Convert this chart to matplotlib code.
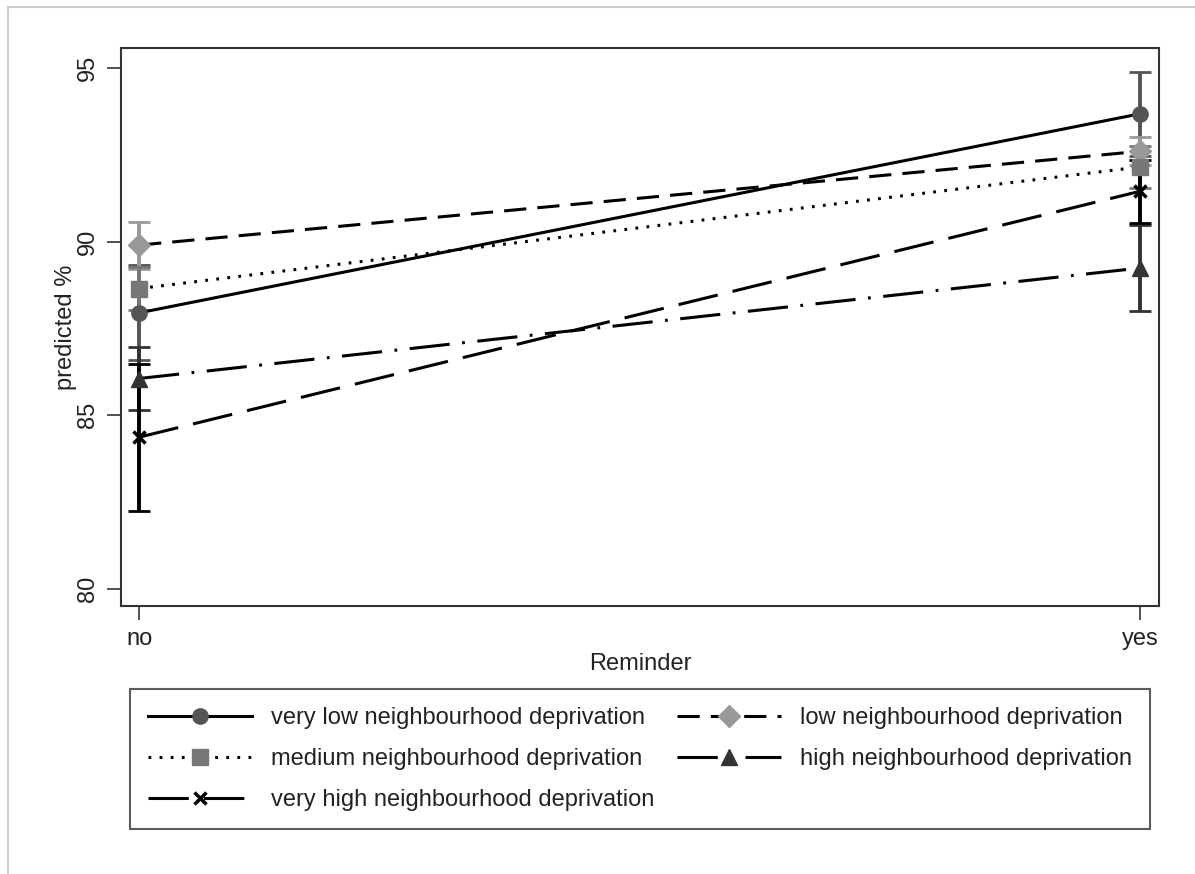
import matplotlib
matplotlib.use('Agg')
import matplotlib.pyplot as plt
from matplotlib.lines import Line2D

plt.rcParams['font.family'] = ['Liberation Sans', 'DejaVu Sans']
plt.rcParams['lines.scale_dashes'] = False

# data
reminder = ['no', 'yes']
groups = ['very low neighbourhood deprivation', 'low neighbourhood deprivation',
          'medium neighbourhood deprivation', 'high neighbourhood deprivation',
          'very high neighbourhood deprivation']
pred_very_low = [87.95, 93.68]
pred_low = [89.90, 92.60]
pred_medium = [88.65, 92.15]
pred_high = [86.06, 89.24]
pred_very_high = [84.37, 91.45]
lo_very_low = [86.58, 92.47]
hi_very_low = [89.32, 94.89]
lo_low = [89.22, 92.20]
hi_low = [90.57, 93.00]
lo_medium = [88.03, 91.55]
hi_medium = [89.27, 92.75]
lo_high = [85.14, 88.00]
hi_high = [86.98, 90.48]
lo_very_high = [82.25, 90.54]
hi_very_high = [86.49, 92.36]

preds = [pred_very_low, pred_low, pred_medium, pred_high, pred_very_high]
los = [lo_very_low, lo_low, lo_medium, lo_high, lo_very_high]
his = [hi_very_low, hi_low, hi_medium, hi_high, hi_very_high]

mcolors = ['#555555', '#999999', '#777777', '#333333', '#000000']
markers = ['o', 'D', 's', '^', 'x']
msizes = [11, 11, 11, 12, 9]
dashes = [None, (16, 8), (2, 6), (29, 9, 2, 9), (29, 11)]

fig = plt.figure(figsize=(11.95, 8.74), dpi=100)
ax = fig.add_axes([0.1013, 0.3066, 0.8686, 0.6385])

x = [0, 1]
for i in range(len(groups)):
    ax.errorbar(x, preds[i],
                yerr=[[p - l for p, l in zip(preds[i], los[i])],
                      [h - p for p, h in zip(preds[i], his[i])]],
                fmt='none', ecolor=mcolors[i], elinewidth=2.8, capsize=8, capthick=2, zorder=2)

handles = {}
for i in range(len(groups)):
    ln, = ax.plot(x, preds[i], color='black', lw=2.2, zorder=3,
                  marker=markers[i], markersize=msizes[i], markerfacecolor=mcolors[i],
                  markeredgecolor=mcolors[i], markeredgewidth=2.5 if markers[i] == 'x' else 1,
                  label=groups[i])
    if dashes[i] is not None:
        ln.set_dashes(dashes[i])
    handles[i] = ln

ax.set_xlim(-0.018, 1.019)
ax.set_ylim(79.51, 95.575)
ax.set_xticks(x)
ax.set_xticklabels(reminder)
ax.set_yticks([80, 85, 90, 95])
ax.set_yticklabels(['80', '85', '90', '95'], rotation=90, va='center')
ax.tick_params(length=10, width=1.2, color='#333333', labelsize=17, labelcolor='#222222', pad=6)
for s in ax.spines.values():
    s.set_color('#333333')
    s.set_linewidth(1.5)
ax.set_xlabel('Reminder', fontsize=17, color='#222222', labelpad=2)
ax.set_ylabel('predicted %', fontsize=17, color='#222222', labelpad=0)

order = [0, 2, 4, 1, 3]
leg = fig.legend([handles[k] for k in order], [groups[k] for k in order],
                 loc='center', bbox_to_anchor=(0.1088, 0.0526, 0.8535, 0.158),
                 mode='expand', ncol=2, fontsize=17, frameon=True, fancybox=False,
                 edgecolor='#333333', handlelength=4.4, handletextpad=0.8,
                 labelspacing=0.8, borderpad=0.75, borderaxespad=0)
leg.get_frame().set_linewidth(1.5)
for t in leg.get_texts():
    t.set_color('#222222')

# light frame around graph region
fig.add_artist(Line2D([8 / 1195, 1.0], [1 - 7 / 874, 1 - 7 / 874], color='#cccccc', lw=1.5))
fig.add_artist(Line2D([8 / 1195, 8 / 1195], [0.0, 1 - 7 / 874], color='#cccccc', lw=1.5))

fig.savefig('out.png', dpi=100)
